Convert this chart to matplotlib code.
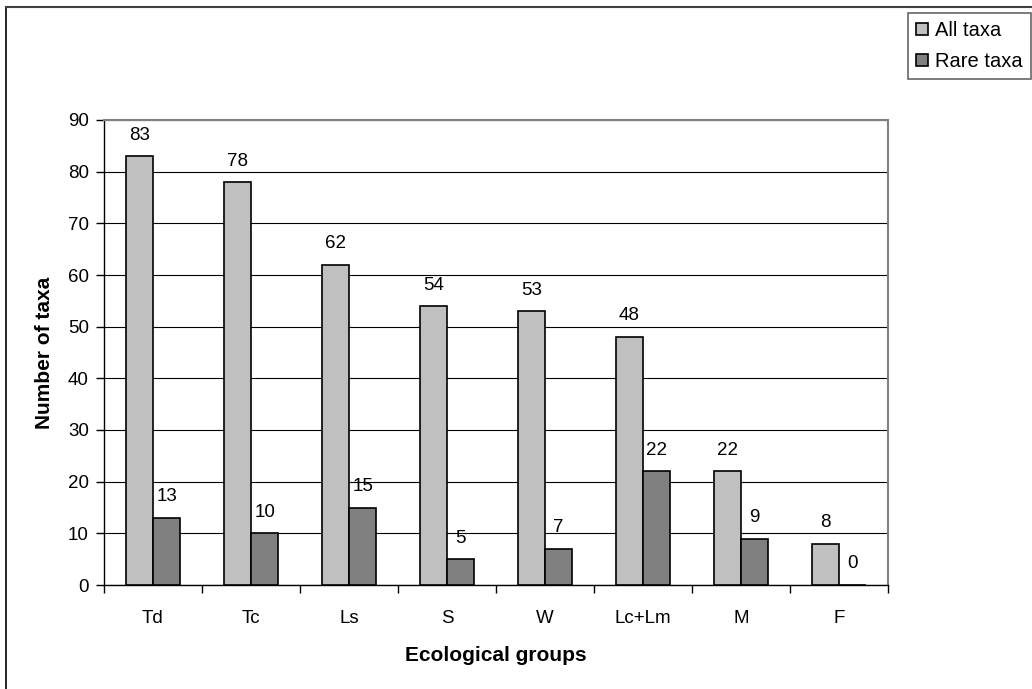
import matplotlib.pyplot as plt
import numpy as np
from matplotlib.lines import Line2D

plt.rcParams['font.family'] = ['Liberation Sans', 'DejaVu Sans']

groups = ['Td', 'Tc', 'Ls', 'S', 'W', 'Lc+Lm', 'M', 'F']
all_taxa = [83, 78, 62, 54, 53, 48, 22, 8]
rare_taxa = [13, 10, 15, 5, 7, 22, 9, 0]

fig = plt.figure(figsize=(10.32, 6.89), dpi=100)
ax = fig.add_axes([104 / 1032, 1 - 585 / 689, 784 / 1032, 465 / 689])

x = np.arange(len(groups))
w = 0.28
b1 = ax.bar(x - w / 2, all_taxa, w, color='#c0c0c0', edgecolor='black', linewidth=1.2,
            label='All taxa', zorder=3)
b2 = ax.bar(x + w / 2, rare_taxa, w, color='#808080', edgecolor='black', linewidth=1.2,
            label='Rare taxa', zorder=3)

# value labels above each bar
for bars in (b1, b2):
    for rect in bars:
        h = rect.get_height()
        ax.annotate('{}'.format(int(h)), (rect.get_x() + rect.get_width() / 2, h),
                    xytext=(0, 9), textcoords='offset points', ha='center', va='bottom',
                    fontsize=13.5)

ax.set_xlim(-0.5, len(groups) - 0.5)
ax.set_ylim(0, 90)
ax.set_yticks(range(0, 91, 10))
ax.yaxis.grid(True, color='black', linewidth=0.8, zorder=0)
ax.set_axisbelow(True)

ax.set_xticks(x)
ax.set_xticklabels(groups, fontsize=13.5)
ax.set_xticks(np.arange(-0.5, len(groups)), minor=True)
ax.tick_params(axis='x', which='major', length=0, pad=18)
ax.tick_params(axis='x', which='minor', length=6, direction='out', width=1)
ax.tick_params(axis='y', labelsize=13.5, length=6, width=1, pad=5)

for s in ('top', 'right'):
    ax.spines[s].set_color('#808080')
    ax.spines[s].set_linewidth(1.5)
for s in ('left', 'bottom'):
    ax.spines[s].set_color('black')
    ax.spines[s].set_linewidth(1)

ax.set_xlabel('Ecological groups', fontsize=15, fontweight='bold', labelpad=14)
ax.set_ylabel('Number of taxa', fontsize=15, fontweight='bold', labelpad=10)

leg = fig.legend(handles=[b1, b2], loc='upper right', bbox_to_anchor=(1031 / 1032, 1 - 13 / 689),
                 fontsize=14.5, frameon=True, fancybox=False, edgecolor='#404040',
                 handlelength=0.6, handleheight=0.6, handletextpad=0.35, borderpad=0.4,
                 borderaxespad=0, labelspacing=0.6)
leg.get_frame().set_linewidth(1.2)

# outer border (left and top visible)
fig.add_artist(Line2D([6 / 1032, 6 / 1032], [0, 1 - 7 / 689], color='black', linewidth=1.2))
fig.add_artist(Line2D([6 / 1032, 1], [1 - 7 / 689, 1 - 7 / 689], color='#404040', linewidth=1.5))

fig.savefig('out.png', dpi=100)
